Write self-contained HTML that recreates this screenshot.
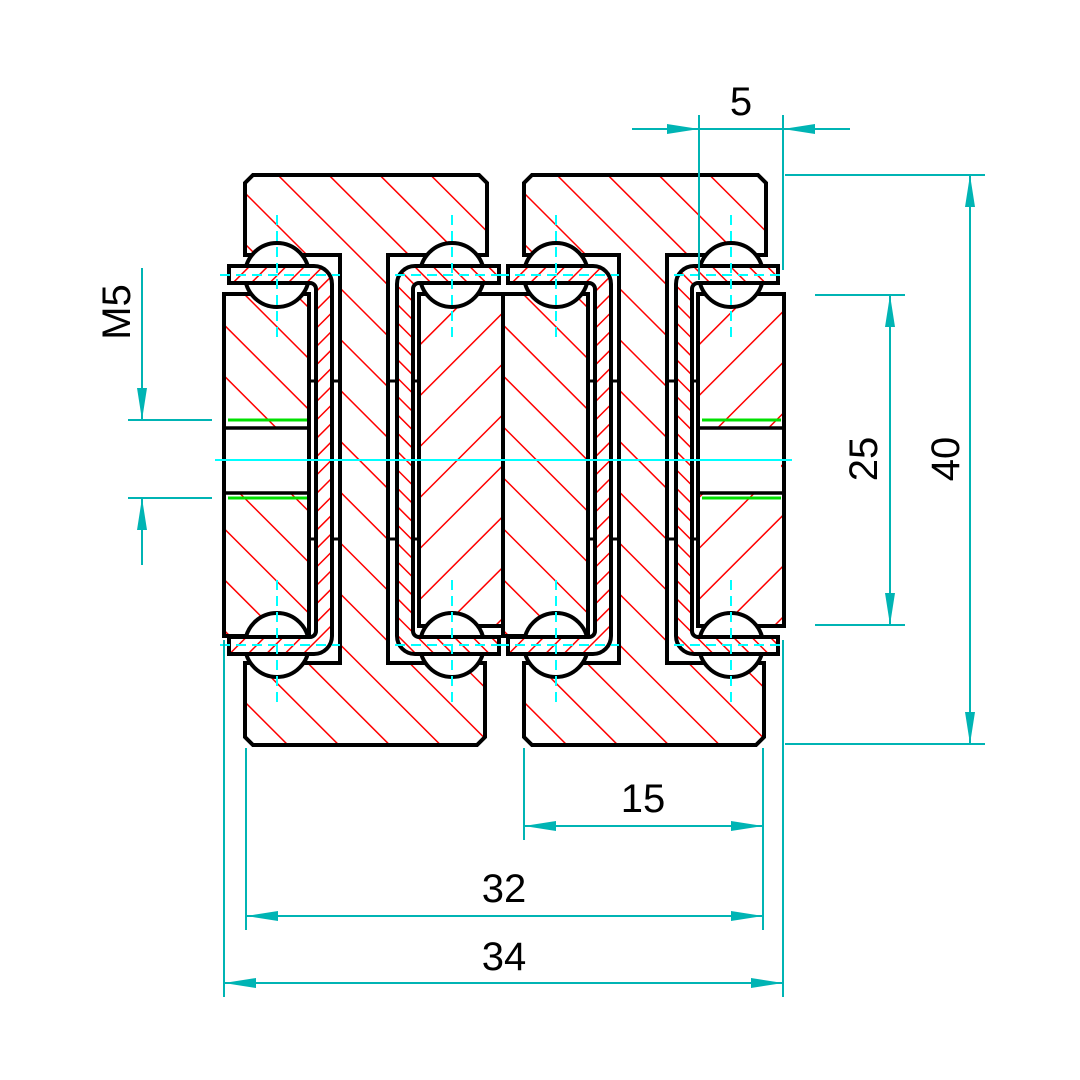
<!DOCTYPE html>
<html><head><style>html,body{margin:0;padding:0;background:#fff}svg{display:block}</style></head>
<body>
<svg width="1080" height="1080" viewBox="0 0 1080 1080" xmlns="http://www.w3.org/2000/svg">
<defs>
<pattern id="bk" patternUnits="userSpaceOnUse" width="36" height="36" patternTransform="rotate(-45)"><line x1="0" y1="0" x2="0" y2="36" stroke="#f00" stroke-width="3"/></pattern>
<pattern id="fw" patternUnits="userSpaceOnUse" width="36" height="36" patternTransform="rotate(45)"><line x1="0" y1="0" x2="0" y2="36" stroke="#f00" stroke-width="3"/></pattern>
<pattern id="bks" patternUnits="userSpaceOnUse" width="13" height="13" patternTransform="rotate(-45)"><line x1="0" y1="0" x2="0" y2="13" stroke="#f00" stroke-width="3"/></pattern>
<pattern id="fws" patternUnits="userSpaceOnUse" width="13" height="13" patternTransform="rotate(45)"><line x1="0" y1="0" x2="0" y2="13" stroke="#f00" stroke-width="3"/></pattern>
<g id="asm">
  <path d="M253,175 H479 L487,183 V255 H388 V663 H485 V737 L477,745 H253 L245,737 V663 H340 V255 H245 V183 Z" fill="url(#bk)" stroke="#000" stroke-width="4"/>
  <rect x="224" y="294" width="85" height="342" fill="#fff"/>
  <rect x="224" y="294" width="85" height="342" fill="url(#bk)" stroke="#000" stroke-width="4"/>
  <rect x="419" y="294" width="86" height="332" fill="#fff"/>
  <rect x="419" y="294" width="86" height="332" fill="url(#fw)" stroke="#000" stroke-width="4"/>
  <g fill="#fff" stroke="#000" stroke-width="4">
    <circle cx="277" cy="275" r="32"/><circle cx="452" cy="275" r="32"/>
    <circle cx="277" cy="645" r="32"/><circle cx="452" cy="645" r="32"/>
  </g>
  <path d="M229,266 H314 A18,18 0 0 1 332,284 V636 A18,18 0 0 1 314,654 H229 V637 H310 A6,6 0 0 0 316,631 V289 A6,6 0 0 0 310,283 H229 Z" fill="#fff"/>
  <path d="M229,266 H314 A18,18 0 0 1 332,284 V636 A18,18 0 0 1 314,654 H229 V637 H310 A6,6 0 0 0 316,631 V289 A6,6 0 0 0 310,283 H229 Z" fill="url(#fws)" stroke="#000" stroke-width="4"/>
  <path d="M499,266 H415 A18,18 0 0 0 397,284 V636 A18,18 0 0 0 415,654 H499 V637 H419 A6,6 0 0 1 413,631 V289 A6,6 0 0 1 419,283 H499 Z" fill="#fff"/>
  <path d="M499,266 H415 A18,18 0 0 0 397,284 V636 A18,18 0 0 0 415,654 H499 V637 H419 A6,6 0 0 1 413,631 V289 A6,6 0 0 1 419,283 H499 Z" fill="url(#bks)" stroke="#000" stroke-width="4"/>
  <g stroke="#000" stroke-width="3">
    <line x1="308" y1="381" x2="316" y2="381"/><line x1="332" y1="381" x2="340" y2="381"/>
    <line x1="308" y1="539" x2="316" y2="539"/><line x1="332" y1="539" x2="340" y2="539"/>
    <line x1="388" y1="381" x2="397" y2="381"/><line x1="413" y1="381" x2="420" y2="381"/>
    <line x1="388" y1="539" x2="397" y2="539"/><line x1="413" y1="539" x2="420" y2="539"/>
  </g>
  <g stroke="#00ffff" stroke-width="2" stroke-dasharray="10,6">
    <line x1="277" y1="215" x2="277" y2="340"/><line x1="452" y1="215" x2="452" y2="340"/>
    <line x1="277" y1="580" x2="277" y2="705"/><line x1="452" y1="580" x2="452" y2="705"/>
    <line x1="220" y1="275" x2="340" y2="275"/><line x1="395" y1="275" x2="505" y2="275"/>
    <line x1="220" y1="645" x2="340" y2="645"/><line x1="395" y1="645" x2="505" y2="645"/>
  </g>
</g>
<g id="hole">
  <rect x="226" y="428" width="81" height="65" fill="#fff"/>
  <line x1="224" y1="428" x2="309" y2="428" stroke="#000" stroke-width="3.5"/>
  <line x1="224" y1="493" x2="309" y2="493" stroke="#000" stroke-width="3.5"/>
  <line x1="228" y1="420" x2="307" y2="420" stroke="#00e000" stroke-width="3"/>
  <line x1="228" y1="498" x2="307" y2="498" stroke="#00e000" stroke-width="3"/>
</g>
</defs>
<use href="#asm"/>
<use href="#asm" transform="translate(279,0)"/>
<use href="#hole"/>
<use href="#hole" transform="translate(474,0)"/>
<line x1="215" y1="460" x2="792" y2="460" stroke="#00ffff" stroke-width="2"/>
<g stroke="#00b4b4" stroke-width="2" fill="none">
  <line x1="632" y1="129" x2="850" y2="129"/>
  <line x1="699" y1="115" x2="699" y2="280"/><line x1="783" y1="115" x2="783" y2="270"/>
  <line x1="785" y1="175" x2="985" y2="175"/><line x1="785" y1="744" x2="985" y2="744"/>
  <line x1="970" y1="175" x2="970" y2="744"/>
  <line x1="815" y1="295" x2="905" y2="295"/><line x1="815" y1="625" x2="905" y2="625"/>
  <line x1="890" y1="295" x2="890" y2="625"/>
  <line x1="142" y1="268" x2="142" y2="420"/><line x1="142" y1="498" x2="142" y2="565"/>
  <line x1="128" y1="420" x2="212" y2="420"/><line x1="128" y1="498" x2="212" y2="498"/>
  <line x1="524" y1="748" x2="524" y2="840"/><line x1="763" y1="748" x2="763" y2="930"/>
  <line x1="524" y1="826" x2="763" y2="826"/>
  <line x1="246" y1="748" x2="246" y2="930"/><line x1="246" y1="916" x2="763" y2="916"/>
  <line x1="224" y1="640" x2="224" y2="997"/><line x1="783" y1="640" x2="783" y2="997"/>
  <line x1="224" y1="983" x2="783" y2="983"/>
</g>
<g fill="#00b4b4">
  <polygon points="699,129 667,124 667,134"/><polygon points="783,129 815,124 815,134"/>
  <polygon points="970,175 965,207 975,207"/><polygon points="970,744 965,712 975,712"/>
  <polygon points="890,295 885,327 895,327"/><polygon points="890,625 885,593 895,593"/>
  <polygon points="142,420 137,388 147,388"/><polygon points="142,498 137,530 147,530"/>
  <polygon points="524,826 556,821 556,831"/><polygon points="763,826 731,821 731,831"/>
  <polygon points="246,916 278,911 278,921"/><polygon points="763,916 731,911 731,921"/>
  <polygon points="224,983 256,978 256,988"/><polygon points="783,983 751,978 751,988"/>
</g>
<g font-family="Liberation Sans, sans-serif" font-size="40" fill="#000" text-anchor="middle">
  <text x="741" y="115">5</text>
  <text x="643" y="812">15</text>
  <text x="504" y="902">32</text>
  <text x="504" y="970">34</text>
  <text transform="translate(959,459) rotate(-90)">40</text>
  <text transform="translate(877,459) rotate(-90)">25</text>
  <text transform="translate(130,312) rotate(-90)">M5</text>
</g>
</svg>
</body></html>
